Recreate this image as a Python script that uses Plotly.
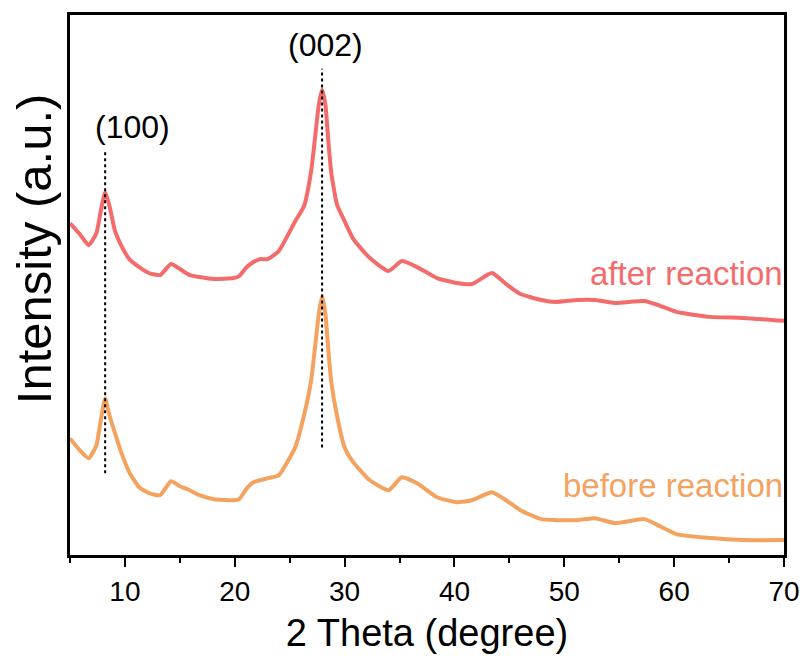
import plotly.graph_objects as go

# 2-theta positions (degree)
two_theta = [5.0, 5.9, 6.7, 7.4, 7.8, 8.2, 8.6, 9.1, 9.6, 10.4, 11.3, 12.2, 13.2, 14.2, 15.0,
             15.9, 16.8, 18.1, 19.9, 20.4, 21.1, 21.7, 22.3, 23.0, 24.0, 25.5, 26.3,
             26.95, 27.3, 27.65, 27.95, 28.25, 28.5, 28.77, 29.3, 30.0, 30.8, 32.3, 34.0,
             35.2, 36.6, 38.4, 40.2, 41.6, 43.4, 44.7, 46.0, 47.9, 49.2, 51.2, 52.8, 54.6,
             57.3, 58.5, 60.2, 63.3, 66.3, 70.0]

# intensities (a.u., offset stacked)
after_reaction = [333, 322, 311, 323, 345, 364, 350, 325, 312, 297, 289, 283, 281, 292, 287,
                  281, 279, 277, 278, 280, 289, 294, 297, 297, 305, 335, 350,
                  385, 418, 452, 467, 452, 418, 385, 352, 335, 317, 298, 285,
                  295, 289, 278, 273, 272, 283, 272, 262, 256, 254, 256, 256, 253,
                  255, 251, 244, 239, 238, 235]

before_reaction = [117, 105, 97, 110, 135, 157, 140, 122, 105, 83, 68, 62, 60, 74, 69,
                   65, 60, 56, 55, 56, 67, 73, 75, 77, 80, 108, 140,
                   175, 208, 242, 260, 242, 208, 175, 140, 108, 93, 75, 65,
                   78, 72, 58, 53, 55, 63, 55, 45, 36, 35, 35, 37, 32,
                   36, 30, 21, 17, 15, 15]

peak_positions = [8.2, 27.95]
peak_labels = ["(100)", "(002)"]
peak_line_ranges = [(82, 407), (108, 488)]
label_positions = [(10.7, 430), (28.3, 512)]

red = "#F46B6B"
orange = "#F3A35F"
font_family = "Liberation Sans, Arial, sans-serif"

fig = go.Figure()
fig.add_trace(go.Scatter(x=two_theta, y=after_reaction, mode="lines",
                         line=dict(color=red, width=4, shape="spline", smoothing=0.5),
                         showlegend=False))
fig.add_trace(go.Scatter(x=two_theta, y=before_reaction, mode="lines",
                         line=dict(color=orange, width=4, shape="spline", smoothing=0.5),
                         showlegend=False))

for xp, (y0, y1) in zip(peak_positions, peak_line_ranges):
    fig.add_shape(type="line", x0=xp, x1=xp, y0=y0, y1=y1, xref="x", yref="y",
                  line=dict(color="black", width=2, dash="dot"))

for lab, (lx, ly) in zip(peak_labels, label_positions):
    fig.add_annotation(x=lx, y=ly, text=lab, showarrow=False,
                       font=dict(size=32, color="black", family=font_family))

fig.add_annotation(x=1, xref="paper", y=283, yref="y", text="after reaction",
                   showarrow=False, xanchor="right", xshift=1,
                   font=dict(size=33, color=red, family=font_family))
fig.add_annotation(x=1, xref="paper", y=70, yref="y", text="before reaction",
                   showarrow=False, xanchor="right", xshift=1,
                   font=dict(size=33, color=orange, family=font_family))

# y-axis title (placed slightly above the plot centre, as in the reference)
fig.add_annotation(x=0, xref="paper", xshift=-36, y=307, yref="y",
                   text="Intensity (a.u.)", textangle=-90, showarrow=False,
                   xanchor="center", yanchor="middle",
                   font=dict(size=49, color="black", family=font_family))

fig.update_layout(
    width=812, height=663,
    margin=dict(l=70, r=18, t=13, b=108),
    paper_bgcolor="white", plot_bgcolor="white",
    font=dict(family=font_family, color="black"),
    xaxis=dict(range=[5, 70], tickmode="array", tickvals=[10, 20, 30, 40, 50, 60, 70],
               ticks="outside", ticklen=9, tickwidth=2, tickcolor="black",
               showline=True, linecolor="black", linewidth=3, mirror=True,
               showgrid=False, zeroline=False,
               tickfont=dict(size=28, family=font_family),
               minor=dict(dtick=5, tick0=0, ticks="outside", ticklen=5, tickwidth=2,
                          tickcolor="black", showgrid=False),
               title=dict(text="2 Theta (degree)", font=dict(size=38, family=font_family),
                          standoff=14)),
    yaxis=dict(range=[0, 542], showticklabels=False, ticks="",
               showline=True, linecolor="black", linewidth=3, mirror=True,
               showgrid=False, zeroline=False),
)

fig.write_html("out.html")
